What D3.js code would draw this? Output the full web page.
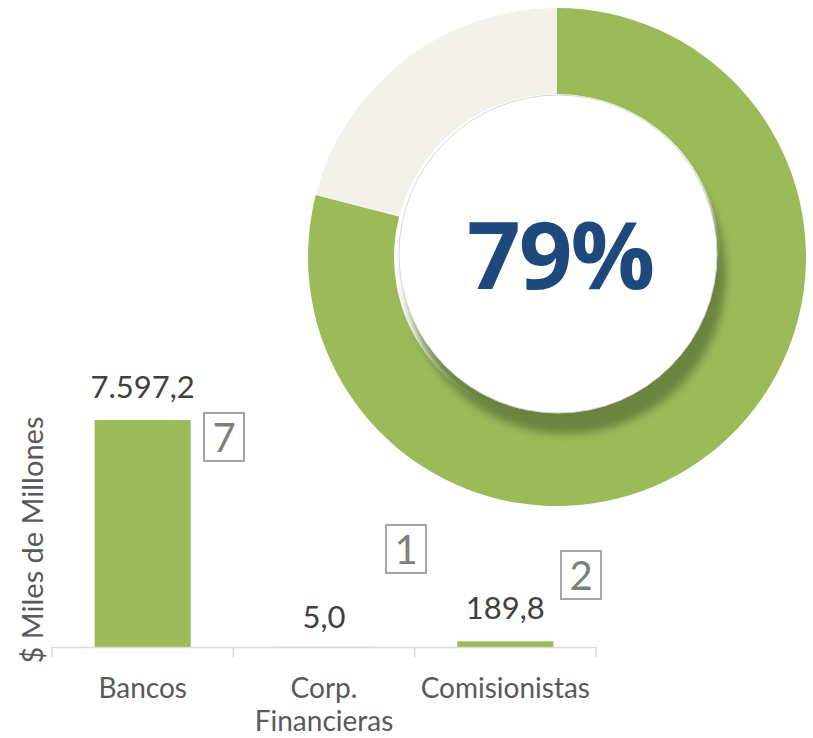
<!DOCTYPE html>
<html>
<head>
<meta charset="utf-8">
<script src="https://cdn.jsdelivr.net/npm/d3@7"></script>
<style>
  body { margin: 0; background: #fff; }
  text { font-family: Lato, "Open Sans", sans-serif; }
</style>
</head>
<body>
<div id="chart"></div>
<script>
// bar chart data
var categories = ["Bancos", "Corp.\nFinancieras", "Comisionistas"];
var values = [7597.2, 5.0, 189.8];
var valueLabels = ["7.597,2", "5,0", "189,8"];
var ranks = ["7", "1", "2"];
// donut data
var donutParts = ["share", "rest"];
var donutValues = [79, 21];
var donutLabel = "79%";

var width = 813, height = 738;

var svg = d3.select("#chart").append("svg")
  .attr("width", width)
  .attr("height", height);

var defs = svg.append("defs");

var grad = defs.append("radialGradient")
  .attr("id", "restGrad")
  .attr("gradientUnits", "userSpaceOnUse")
  .attr("cx", 430).attr("cy", 130).attr("r", 170);
grad.append("stop").attr("offset", "0%").attr("stop-color", "#f6f8fc");
grad.append("stop").attr("offset", "45%").attr("stop-color", "#fdfdfc");
grad.append("stop").attr("offset", "100%").attr("stop-color", "#f2f1ea");

var blur = defs.append("filter").attr("id", "shadow")
  .attr("x", "-30%").attr("y", "-30%").attr("width", "160%").attr("height", "160%");
blur.append("feGaussianBlur").attr("stdDeviation", 4);

// ---- donut ----
var cx = 557, cy = 257, outerR = 249, innerR = 163;

var pie = d3.pie().sort(null).value(function(d) { return d; });
var arc = d3.arc().innerRadius(innerR).outerRadius(outerR);

var donut = svg.append("g")
  .attr("transform", "translate(" + cx + "," + cy + ")");

donut.selectAll("path")
  .data(pie(donutValues))
  .enter().append("path")
  .attr("d", arc)
  .attr("fill", function(d, i) { return i == 0 ? "#9bbb59" : "url(#restGrad)"; });

// shadow of the inner disc
donut.append("circle")
  .attr("cx", 9).attr("cy", 17).attr("r", 160)
  .attr("fill", "#6a8440")
  .attr("filter", "url(#shadow)");

donut.append("circle")
  .attr("cx", 1).attr("cy", -3).attr("r", 159)
  .attr("fill", "#fff")
  .attr("stroke", "#d8d8d8")
  .attr("stroke-width", 1);

donut.append("text")
  .attr("x", 3).attr("y", 32)
  .attr("text-anchor", "middle")
  .style("font-family", "'Open Sans', sans-serif")
  .style("font-weight", 700)
  .style("font-size", "94px")
  .style("letter-spacing", "-2px")
  .attr("fill", "#1f497d")
  .text(donutLabel);

// ---- bar chart ----
var left = 52, right = 596, base = 647;

var x = d3.scaleBand()
  .domain(categories)
  .range([left, right])
  .paddingInner(0.47)
  .paddingOuter(0.235);

var y = d3.scaleLinear()
  .domain([0, 7597.2])
  .range([base, 420]);

var g = svg.append("g");

g.selectAll(".bar")
  .data(values)
  .enter().append("rect")
  .attr("class", "bar")
  .attr("x", function(d, i) { return x(categories[i]); })
  .attr("y", function(d) { return y(d); })
  .attr("width", x.bandwidth())
  .attr("height", function(d) { return base - y(d); })
  .attr("fill", "#9bbb59");

// axis line + ticks
var step = (right - left) / categories.length;
g.append("line")
  .attr("x1", left).attr("x2", right)
  .attr("y1", base + 0.5).attr("y2", base + 0.5)
  .attr("stroke", "#d9d9d9").attr("stroke-width", 1.5);
g.selectAll(".tick")
  .data(d3.range(categories.length + 1))
  .enter().append("line")
  .attr("x1", function(d) { return left + d * step; })
  .attr("x2", function(d) { return left + d * step; })
  .attr("y1", base).attr("y2", base + 10)
  .attr("stroke", "#d9d9d9").attr("stroke-width", 1.5);

// category labels
g.selectAll(".cat")
  .data(categories)
  .enter().append("text")
  .attr("class", "cat")
  .attr("text-anchor", "middle")
  .attr("fill", "#595959")
  .style("font-size", "28px")
  .each(function(d) {
    var lines = d.split("\n");
    var t = d3.select(this);
    lines.forEach(function(l, k) {
      t.append("tspan")
        .attr("x", x(d) + x.bandwidth() / 2)
        .attr("y", 698 + k * 33)
        .text(l);
    });
  });

// value labels
g.selectAll(".val")
  .data(values)
  .enter().append("text")
  .attr("class", "val")
  .attr("text-anchor", "middle")
  .attr("fill", "#404040")
  .style("font-size", "31px")
  .attr("x", function(d, i) { return x(categories[i]) + x.bandwidth() / 2; })
  .attr("y", function(d, i) { return i == 1 ? 628 : y(d) - 22; })
  .text(function(d, i) { return valueLabels[i]; });

// rank boxes
var boxPos = [[204, 413], [386, 525], [561, 551]];
var boxes = g.selectAll(".rank")
  .data(ranks)
  .enter().append("g")
  .attr("class", "rank")
  .attr("transform", function(d, i) { return "translate(" + boxPos[i][0] + "," + boxPos[i][1] + ")"; });
boxes.append("rect")
  .attr("width", 40).attr("height", 48)
  .attr("fill", "#fff")
  .attr("stroke", "#a6a6a6").attr("stroke-width", 2);
boxes.append("text")
  .attr("x", 20).attr("y", 39)
  .attr("text-anchor", "middle")
  .attr("fill", "#7f7f7f")
  .style("font-size", "40px")
  .text(function(d) { return d; });

// y axis title
svg.append("text")
  .attr("transform", "translate(43,540) rotate(-90)")
  .attr("text-anchor", "middle")
  .attr("fill", "#595959")
  .style("font-size", "29px")
  .text("$ Miles de Millones");
</script>
</body>
</html>
